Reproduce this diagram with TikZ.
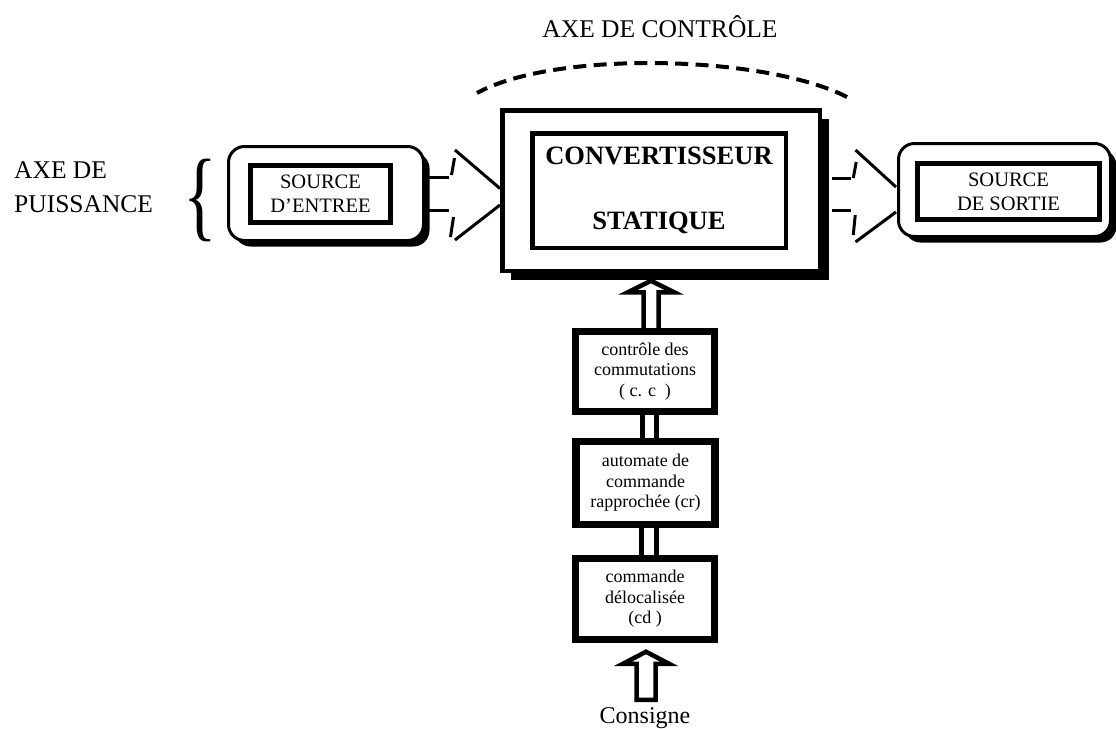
\documentclass[tikz,border=0pt]{standalone}
\usepackage{fontspec}
\setmainfont{Liberation Serif}
\usetikzlibrary{shadows,calc}
\begin{document}
\begin{tikzpicture}[x=1pt,y=-1pt,
  lbl/.style={font=\fontsize{25.5}{34}\selectfont, inner sep=0pt},
  srcouter/.style={draw, line width=3pt, rounded corners=16pt, fill=white,
    general shadow={fill=black, shadow xshift=6pt, shadow yshift=-6pt}},
  srcinner/.style={draw, line width=5pt, align=center, font=\fontsize{20.5}{24}\selectfont, inner sep=0pt},
  ctrlbox/.style={draw, line width=7.5pt, minimum width=139pt, align=center,
    font=\fontsize{18}{20.5}\selectfont, inner sep=0pt},
  arw/.style={line width=3pt},
  hollow/.style={line width=4.5pt, line join=miter},
  dbl/.style={line width=5pt}
]
\useasboundingbox (0,0) rectangle (1116,728);

% labels
\node[lbl, anchor=base] (title) at (660,37) {AXE DE CONTRÔLE};
\node[lbl, anchor=north west, align=left] (axep) at (14,161) {AXE DE\\PUISSANCE};
\node[inner sep=0pt, anchor=base, font=\fontsize{100}{100}\selectfont] (brace) at (200,228) {\scalebox{0.7}[1]{\{}};

% converter
\node[draw, line width=4.5pt, minimum width=317.5pt, minimum height=160.5pt, fill=white,
  general shadow={fill=black, shadow xshift=9pt, shadow yshift=-9pt}] (conv) at (661,190.5) {};
\node[draw, line width=4.5pt, minimum width=253.5pt, minimum height=114.5pt, align=center,
  font=\fontsize{26.5}{65}\selectfont\bfseries, inner sep=0pt] (convin) at (659,190.5) {CONVERTISSEUR\\STATIQUE};

% sources
\node[srcouter, minimum width=195pt, minimum height=94pt] (lbox) at (326,193.5) {};
\node[srcinner, minimum width=140.5pt, minimum height=57.5pt] (lin) at (320.5,194) {SOURCE\\D'ENTREE};
\node[srcouter, minimum width=212pt, minimum height=93pt] (rbox) at (1004.5,190) {};
\node[srcinner, minimum width=182.5pt, minimum height=56.5pt] (rin) at (1008.5,191.5) {SOURCE\\DE SORTIE};

% control chain
\node[ctrlbox, minimum height=80pt] (cc) at (645,371.5) {contrôle des\\commutations\\( c. c\ \ )};
\node[ctrlbox, minimum height=83pt] (cr) at (645.5,483) {automate de\\commande\\rapprochée (cr)};
\node[ctrlbox, minimum height=81pt] (cd) at (645,599) {commande\\délocalisée\\(cd )};
\node[font=\fontsize{24}{28}\selectfont, anchor=base, inner sep=0pt] (cons) at (645,723) {Consigne};

% control axis dashed arc
\coordinate (arcL) at (477,93);
\coordinate (arcR) at (847,97);
\draw[line width=4pt, dash pattern=on 13pt off 7.4pt] (arcR) .. controls (765,55) and (555,50) .. (arcL);

% left power arrow
\draw[arw] ($(lbox.east)+(4,-16.5)$) -- ++(20,0);
\draw[arw] ($(lbox.east)+(4,16.5)$) -- ++(20,0);
\draw[arw] ($(lbox.east)+(29.5,-35.5)$) -- ++(-3,17);
\draw[arw] ($(lbox.east)+(28.5,23.5)$) -- ++(-3,20);
\draw[arw] ($(conv.west)+(-45,-40.5)$) -- ($(conv.west)+(0,-2)$);
\draw[arw] ($(conv.west)+(0,14.5)$) -- ($(conv.west)+(-45,49.5)$);

% right power arrow
\draw[arw] ($(conv.east)+(10,-12.5)$) -- ++(19,0);
\draw[arw] ($(conv.east)+(10,19.5)$) -- ++(19,0);
\draw[arw] ($(conv.east)+(34.25,-28.5)$) -- ++(-3,16);
\draw[arw] ($(conv.east)+(33.25,24.5)$) -- ++(-2,20);
\draw[arw] ($(rbox.west)+(-41.5,-40)$) -- ($(rbox.west)+(-1,-3)$);
\draw[arw] ($(rbox.west)+(-1,22)$) -- ($(rbox.west)+(-41.5,52)$);

% hollow arrow cc -> converter
\draw[hollow] ($(cc.north)+(-1.5,0)$) -- ++(0,-35.5) -- ++(-15.5,0) -- ++(23,-11.5)
  -- ++(23,11.5) -- ++(-15.5,0) -- ++(0,35.5);

% double connectors
\draw[dbl] ($(cc.south)+(-3,0)$) -- ($(cr.north)+(-3.5,0)$);
\draw[dbl] ($(cc.south)+(11,0)$) -- ($(cr.north)+(10.5,0)$);
\draw[dbl] ($(cr.south)+(-4.5,0)$) -- ($(cd.north)+(-4,0)$);
\draw[dbl] ($(cr.south)+(10.5,0)$) -- ($(cd.north)+(11,0)$);

% consigne hollow arrow
\coordinate (consin) at ($(cd.south)+(1,56.5)$);
\draw[hollow] ($(cd.south)+(1,8.5)$) -- ++(23,12) -- ++(-13.5,0) -- ($(consin)+(9.5,0)$)
  -- ($(consin)+(-9.5,0)$) -- ++(0,-36) -- ++(-13.5,0) -- cycle;
\end{tikzpicture}
\end{document}
